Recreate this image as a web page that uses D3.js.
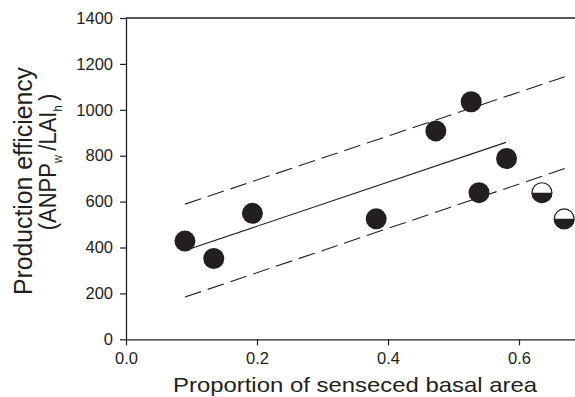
<!DOCTYPE html>
<html><head><meta charset="utf-8">
<script src="https://cdn.jsdelivr.net/npm/d3@7"></script>
<style>body{margin:0;background:#fff}svg{display:block}text{font-family:"Liberation Sans",Arial,sans-serif;fill:#231f20}</style>
</head><body>
<script>
const xFilled = [0.090, 0.134, 0.193, 0.382, 0.473, 0.527, 0.581, 0.539];
const yFilled = [428, 352, 549, 525, 908, 1035, 788, 639];
const xHalf = [0.635, 0.669];
const yHalf = [639, 525];
const fitX = [0.09, 0.58], fitY = [387, 858];
const bandX = [0.09, 0.67], upperY = [589, 1144], lowerY = [184, 744];
const xTicks = [0.0, 0.2, 0.4, 0.6];
const yTicks = [0, 200, 400, 600, 800, 1000, 1200, 1400];

const W = 575, H = 397;
const svg = d3.select("body").append("svg").attr("width", W).attr("height", H);
const x = d3.scaleLinear().domain([0, 0.7]).range([126, 126 + 655 * 0.7]);
const y = d3.scaleLinear().domain([0, 1400]).range([339.3, 18]);
const ink = "#231f20";

// top frame
svg.append("line").attr("x1", x(0)).attr("x2", x(0.7)).attr("y1", y(1400)).attr("y2", y(1400))
  .attr("stroke", ink).attr("stroke-width", 1.3);

const gx = svg.append("g").attr("transform", `translate(0,${y(0)})`)
  .call(d3.axisBottom(x).tickValues(xTicks).tickFormat(d3.format(".1f")).tickSizeInner(6).tickSizeOuter(0));
const gy = svg.append("g").attr("transform", `translate(${x(0)},0)`)
  .call(d3.axisLeft(y).tickValues(yTicks).tickFormat(d3.format("d")).tickSizeInner(6).tickSizeOuter(0));
[gx, gy].forEach(g => {
  g.select(".domain").attr("stroke", ink).attr("stroke-width", 1.3);
  g.selectAll(".tick line").attr("stroke", ink).attr("stroke-width", 1.2);
  g.selectAll(".tick text").attr("font-size", 16.5).attr("font-family", "Liberation Sans, Arial, sans-serif").attr("fill", ink);
});
gx.selectAll(".tick text").attr("dy", "0.93em");
gy.selectAll(".tick text").attr("x", -13);

const line = d3.line().x(d => x(d[0])).y(d => y(d[1]));
svg.append("path").attr("d", line(fitX.map((v, i) => [v, fitY[i]])))
  .attr("fill", "none").attr("stroke", ink).attr("stroke-width", 1.1);
[upperY, lowerY].forEach(arr => {
  svg.append("path").attr("d", line(bandX.map((v, i) => [v, arr[i]])))
    .attr("fill", "none").attr("stroke", ink).attr("stroke-width", 1.1).attr("stroke-dasharray", "17,7");
});

const r = 10.5;
svg.append("g").selectAll("circle").data(xFilled.map((v, i) => [v, yFilled[i]])).join("circle")
  .attr("cx", d => x(d[0])).attr("cy", d => y(d[1])).attr("r", r).attr("fill", ink);

const half = svg.append("g").selectAll("g").data(xHalf.map((v, i) => [v, yHalf[i]])).join("g")
  .attr("transform", d => `translate(${x(d[0])},${y(d[1])})`);
half.append("circle").attr("r", r - 0.6).attr("fill", "#fff").attr("stroke", ink).attr("stroke-width", 1.2);
half.append("path").attr("d", d3.arc().innerRadius(0).outerRadius(r)({startAngle: Math.PI / 2, endAngle: 3 * Math.PI / 2}))
  .attr("fill", ink);

// axis titles
svg.append("text").attr("x", 355).attr("y", 392).attr("text-anchor", "middle")
  .attr("font-size", 21).attr("textLength", 364).attr("lengthAdjust", "spacingAndGlyphs")
  .text("Proportion of senseced basal area");

svg.append("text").attr("transform", "translate(32,181) scale(1.12,1) rotate(-90)").attr("text-anchor", "middle")
  .attr("font-size", 22.5).attr("textLength", 228).attr("lengthAdjust", "spacingAndGlyphs")
  .text("Production efficiency");

const t2 = svg.append("text").attr("transform", "translate(56,162) scale(1.12,1) rotate(-90)").attr("text-anchor", "middle")
  .attr("font-size", 22);
t2.append("tspan").text("(ANPP");
t2.append("tspan").attr("font-size", 11).attr("dy", 5).text("w");
t2.append("tspan").attr("dy", -5).text("\u2009/LAI");
t2.append("tspan").attr("font-size", 11).attr("dy", 5).text("h");
t2.append("tspan").attr("dy", -5).text("\u2009)");
</script>
</body></html>
